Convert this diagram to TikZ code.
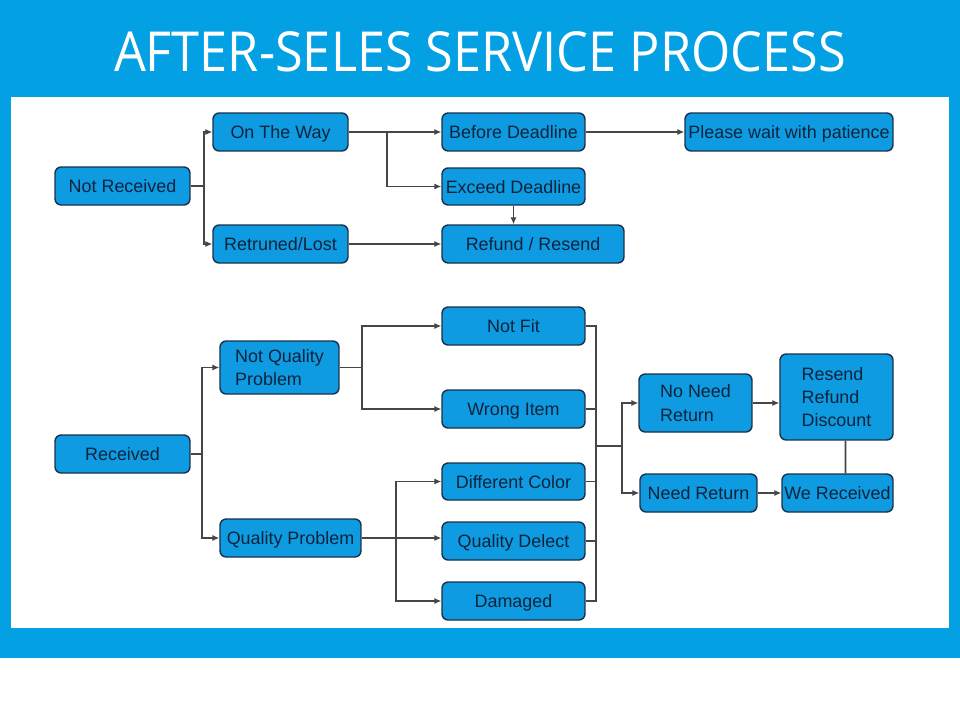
\documentclass[tikz,border=0pt]{standalone}
\usepackage{fontspec}
\usepackage{graphicx}
\setmainfont{Liberation Sans}
\newfontfamily\titlefont{Open Sans}
\usetikzlibrary{arrows.meta,positioning}

\definecolor{bandblue}{RGB}{4,160,228}
\definecolor{boxblue}{RGB}{14,155,225}
\definecolor{boxline}{RGB}{25,50,75}
\definecolor{boxtext}{RGB}{12,35,60}
\definecolor{wiregray}{RGB}{70,70,70}

\begin{document}
\begin{tikzpicture}[
    x=0.02cm, y=-0.02cm,
    stepbox/.style={
        rectangle,
        draw=boxline,
        line width=0.8pt,
        rounded corners=3.5pt,
        fill=boxblue,
        text=boxtext,
        font=\fontsize{10.2}{13.3}\selectfont,
        text height=1.9ex,
        text depth=0.5ex,
        inner xsep=1pt,
        inner ysep=1pt,
        align=center,
        minimum width=2.7cm,
        minimum height=0.76cm
    },
    multiline/.style={
        align=left,
        text height=,
        text depth=
    },
    wire/.style={
        draw=wiregray,
        line width=0.9pt
    },
    flow/.style={
        wire,
        -{Latex[length=4pt,width=3.6pt]}
    }
]

% Frame
\fill[bandblue] (0,0) rectangle (960,658);
\fill[white] (11,97) rectangle (949,628);
\useasboundingbox (0,0) rectangle (960,700);

\node[text=white] (title) at (480,52)
    {\resizebox{14.64cm}{0.8cm}{\titlefont AFTER-SELES SERVICE PROCESS}};

% Nodes: not received
\node[stepbox] (notrec) at (122.5,186) {Not Received};
\node[stepbox] (onway) at (280.5,132) {On The Way};
\node[stepbox] (lost) at (280.5,244) {Retruned/Lost};
\node[stepbox, minimum width=2.86cm] (before) at (513.5,132) {Before Deadline};
\node[stepbox, minimum width=2.86cm, minimum height=0.74cm] (exceed) at (513.5,186.5) {Exceed Deadline};
\node[stepbox, minimum width=3.64cm] (refund) at (533,244) {Refund / Resend};
\node[stepbox, minimum width=4.16cm] (wait) at (789,132) {Please wait with patience};

% Nodes: received
\node[stepbox] (rec) at (122.5,454) {Received};
\node[stepbox, multiline, minimum width=2.38cm, minimum height=1.06cm] (notqual) at (279.5,367.5) {Not Quality\\Problem};
\node[stepbox, minimum width=2.82cm] (qual) at (290.5,538) {Quality Problem};
\node[stepbox, minimum width=2.86cm] (notfit) at (513.5,326) {Not Fit};
\node[stepbox, minimum width=2.86cm] (wrong) at (513.5,409) {Wrong Item};
\node[stepbox, minimum width=2.86cm, minimum height=0.74cm] (diffcol) at (513.5,481.5) {Different Color};
\node[stepbox, minimum width=2.86cm] (defect) at (513.5,541) {Quality Delect};
\node[stepbox, minimum width=2.86cm] (damaged) at (513.5,601) {Damaged};
\node[stepbox, multiline, minimum width=2.26cm, minimum height=1.16cm] (noneed) at (695.5,403) {No Need\\Return};
\node[stepbox, minimum width=2.34cm] (needret) at (698.5,493) {Need Return};
\node[stepbox, multiline, minimum width=2.26cm, minimum height=1.72cm] (resend) at (836.5,397) {Resend\\Refund\\Discount};
\node[stepbox, minimum width=2.22cm] (gotback) at (837.5,493) {We Received};

% Connectors: not received
\coordinate (splitA) at (204,186);
\draw[wire] (notrec.east) -- (splitA);
\draw[flow] (splitA) |- (onway.west);
\draw[flow] (splitA) |- (lost.west);
\coordinate (splitB) at (387,132);
\draw[flow] (onway.east) -- (before.west);
\draw[flow] (splitB) |- (exceed.west);
\draw[flow] (before.east) -- (wait.west);
\draw[flow] (exceed.south) -- (exceed.south |- refund.north);
\draw[flow] (lost.east) -- (refund.west);

% Connectors: received
\coordinate (splitC) at (202,454);
\draw[wire] (rec.east) -- (splitC);
\draw[flow] (splitC) |- (notqual.west);
\draw[flow] (splitC) |- (qual.west);
\coordinate (splitD) at (362,367.5);
\draw[wire] (notqual.east) -- (splitD);
\draw[flow] (splitD) |- (notfit.west);
\draw[flow] (splitD) |- (wrong.west);
\coordinate (splitE) at (396,538);
\draw[flow] (qual.east) -- (qual.east -| defect.west);
\draw[flow] (splitE) |- (diffcol.west);
\draw[flow] (splitE) |- (damaged.west);

% Collecting bus
\coordinate (merge) at (596,446);
\draw[wire] (notfit.east) -| (merge) |- (damaged.east);
\foreach \b in {wrong,diffcol,defect}
    \draw[wire] (\b.east) -- (\b.east -| merge);
\coordinate (splitF) at (622,446);
\draw[wire] (merge) -- (splitF);
\draw[flow] (splitF) |- (noneed.west);
\draw[flow] (splitF) |- (needret.west);
\draw[flow] (noneed.east) -- (noneed.east -| resend.west);
\draw[flow] (needret.east) -- (gotback.west);
\draw[wire] ([xshift=0.18cm]resend.south) -- ([xshift=0.16cm]gotback.north);

\end{tikzpicture}
\end{document}
